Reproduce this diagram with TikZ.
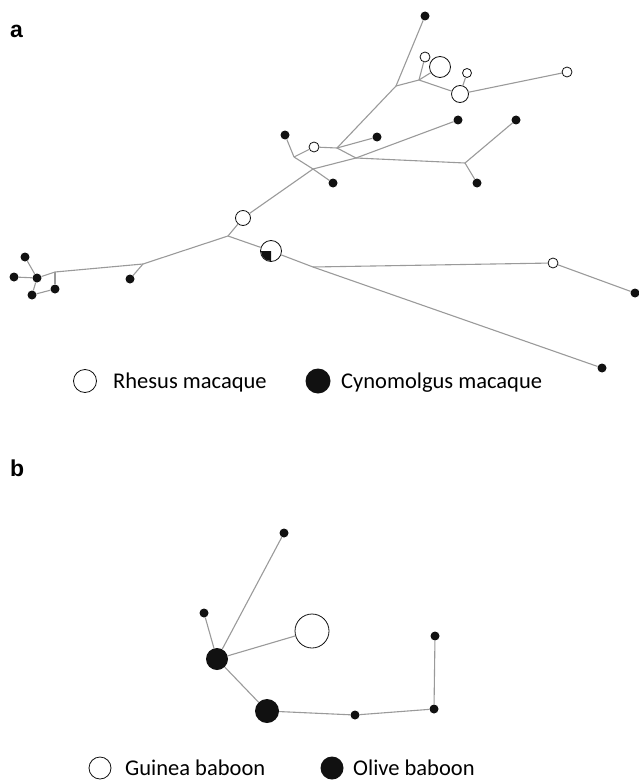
\documentclass[tikz,border=0pt]{standalone}
\usepackage{fontspec}
\setmainfont{Carlito}
\newfontfamily\panelfont{Liberation Sans}
\usetikzlibrary{positioning}
\definecolor{edgegray}{HTML}{9A9A9A}
\definecolor{ink}{HTML}{111111}

\begin{document}
\begin{tikzpicture}[x=1pt,y=-1pt,
    link/.style={edgegray,line width=1.1pt},
    tip/.style={circle,fill=ink,inner sep=0pt,minimum size=9pt},
    hollow/.style={circle,draw=ink,fill=white,line width=0.8pt,inner sep=0pt},
    heavy/.style={circle,fill=ink,inner sep=0pt},
    panel/.style={font=\panelfont\bfseries\fontsize{23}{26}\selectfont,anchor=base west,inner sep=0pt},
    key/.style={font=\fontsize{22.5}{25}\selectfont,anchor=base west,inner sep=0pt}]
  \useasboundingbox (0,0) rectangle (639,781);
  \node[panel] (pa) at (10,38) {a};
  \node[panel] (pb) at (10,476) {b};
  % panel a
  \foreach \x/\y/\n in {396/86/ja,419/80/jb,337/148/jc,356/158/jd,465/163/je,294/157/jf,313/169/jg,228/236/jh,313/267/ji,143/264/jj,55/272/jk}
    \coordinate (\n) at (\x,\y);
  \foreach \x/\y/\n in {425/16/a1,458/120/a2,516/120/a3,477/183/a4,377/137/a5,285/135/a6,333/183/a7,130/279/a8,25/257/a9,14/277/a10,37/278/a11,32/295/a12,55/289/a13,635/293/a14,602/368/a15}
    \node[tip] (\n) at (\x,\y) {};
  \foreach \x/\y/\n/\d in {314/147/w1/10,425/57/w2/10,440/67/w3/21,460/94/w4/17,467/73/w5/9,567/72/w6/10,243/218/w7/15,271/251/w8/21,553/263/w9/10}
    \node[hollow,minimum size=\d pt] (\n) at (\x,\y) {};
  \fill[ink] (w8.center) -- ++(180:10) arc[start angle=180,end angle=90,radius=10] -- cycle;
  \foreach \u/\v in {a1/ja,ja/jb,jb/w2,jb/w3,jb/w4,w4/w5,w4/w6,ja/jc,jc/w1,jc/a5,jc/jd,w1/jf,jf/a6,jf/jg,jg/a7,jg/w7,jg/jd,jd/a2,jd/je,je/a3,je/a4,jh/w7,jh/w8,jh/jj,w8/ji,ji/w9,ji/a15,w9/a14,jj/a8,jj/jk,jk/a11,jk/a13,a11/a9,a11/a10,a11/a12,a12/a13}
    \draw[link] (\u) -- (\v);
  \node[hollow,minimum size=23pt] (rhkey) at (85,381) {};
  \node[key] (rhtxt) at (113,388) {Rhesus macaque};
  \node[heavy,minimum size=25pt] (cykey) at (318,381) {};
  \node[key] (cytxt) at (341,388) {Cynomolgus macaque};
  % panel b
  \foreach \x/\y/\n in {284/533/b1,204/613/b2,435/636/b3,434/709/b4,355/715/b5}
    \node[tip] (\n) at (\x,\y) {};
  \node[heavy,minimum size=22pt] (b6) at (217,659) {};
  \node[heavy,minimum size=24pt] (b7) at (267,711) {};
  \node[hollow,minimum size=34pt] (b8) at (312,631) {};
  \foreach \u/\v in {b6/b1,b6/b2,b6/b8,b6/b7,b7/b5,b5/b4,b4/b3}
    \draw[link] (\u) -- (\v);
  \node[hollow,minimum size=22pt] (gukey) at (100,768) {};
  \node[key] (gutxt) at (125,775) {Guinea baboon};
  \node[heavy,minimum size=23pt] (olkey) at (332,768) {};
  \node[key] (oltxt) at (353,775) {Olive baboon};
\end{tikzpicture}
\end{document}
